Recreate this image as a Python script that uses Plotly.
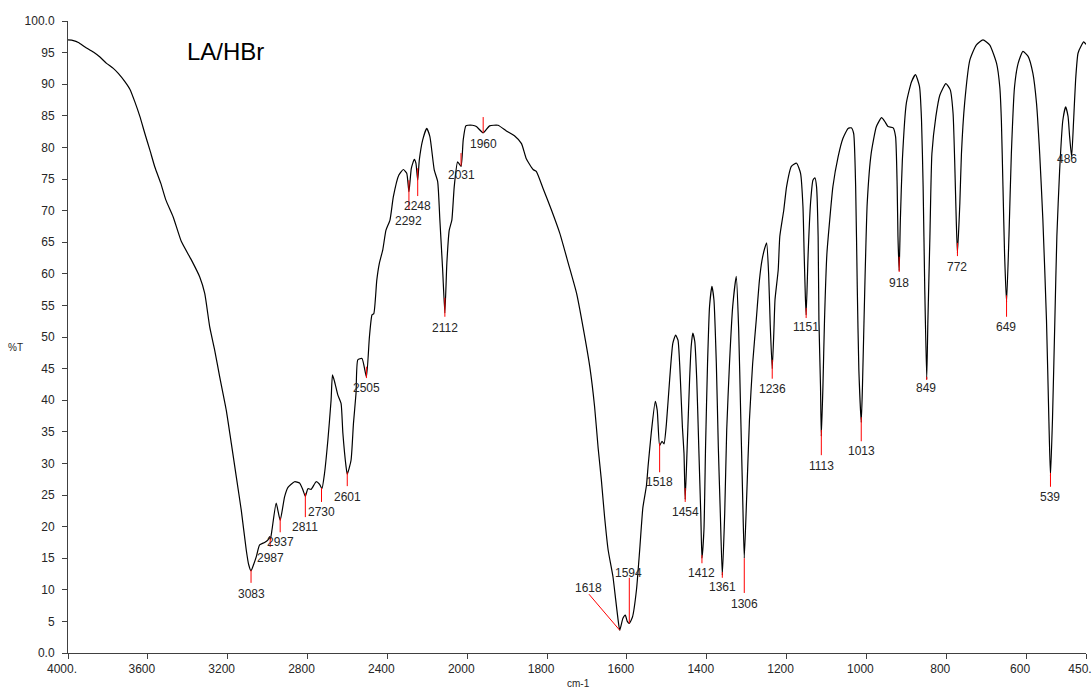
import plotly.graph_objects as go

# ---------------- data ----------------
wavenumber = [
    4000, 3973, 3948, 3915, 3873, 3840, 3807, 3773, 3748, 3715, 3690, 3665, 3640, 3615,
    3590, 3565, 3535, 3510, 3473, 3432, 3382, 3340, 3315, 3290, 3265, 3240, 3207, 3182,
    3157, 3132, 3107, 3095, 3083, 3070, 3057, 3040, 3015, 2998, 2990, 2986, 2978, 2957,
    2937, 2915, 2898, 2865, 2840, 2823, 2811, 2798, 2782, 2757, 2740, 2728, 2715, 2698,
    2682, 2675, 2665, 2648, 2632, 2623, 2607, 2601, 2582, 2570, 2557, 2548, 2527, 2505,
    2490, 2477, 2468, 2453, 2440, 2423, 2407, 2387, 2370, 2343, 2320, 2303, 2292, 2280,
    2265, 2257, 2248, 2240, 2223, 2203, 2187, 2165, 2148, 2137, 2123, 2112, 2102, 2090,
    2077, 2065, 2048, 2031, 2020, 2007, 1998, 1987, 1977, 1960, 1944, 1923, 1902, 1881,
    1864, 1852, 1835, 1827, 1810, 1789, 1768, 1747, 1726, 1710, 1693, 1681, 1672, 1664,
    1656, 1647, 1635, 1628, 1622, 1618, 1610, 1604, 1599, 1594, 1586, 1576, 1568, 1560,
    1551, 1547, 1539, 1529, 1524, 1518, 1512, 1507, 1501, 1493, 1485, 1478, 1472, 1466,
    1461, 1457, 1454, 1449, 1443, 1439, 1435, 1430, 1425, 1420, 1415, 1412, 1407, 1403,
    1398, 1393, 1387, 1382, 1376, 1371, 1366, 1361, 1355, 1350, 1343, 1335, 1326, 1320,
    1315, 1310, 1306, 1300, 1293, 1285, 1276, 1268, 1262, 1255, 1250, 1245, 1241, 1236,
    1232, 1229, 1221, 1217, 1207, 1200, 1188, 1175, 1165, 1159, 1156, 1153, 1151, 1146,
    1140, 1134, 1129, 1125, 1121, 1119, 1115, 1113, 1109, 1105, 1099, 1092, 1084, 1071,
    1059, 1046, 1038, 1032, 1027, 1023, 1019, 1013, 1010, 1004, 998, 988, 975, 962,
    954, 946, 933, 927, 923, 921, 918, 915, 910, 900, 887, 877, 867, 862,
    858, 854, 849, 846, 841, 836, 826, 816, 801, 790, 783, 779, 775, 772,
    766, 762, 754, 741, 725, 708, 691, 674, 666, 662, 658, 654, 649, 643,
    637, 629, 620, 608, 595, 583, 574, 566, 558, 549, 543, 539, 534, 528,
    523, 516, 508, 501, 495, 491, 486, 481, 476, 470, 461, 456, 451, 450,
]
transmittance = [
    97.0, 96.9, 96.6, 95.9, 95.1, 94.3, 93.3, 92.5, 91.7, 90.4, 89.2, 87.2, 84.9, 82.2,
    79.6, 76.9, 74.3, 71.7, 69.0, 65.1, 62.2, 59.5, 56.9, 51.6, 47.9, 43.7, 38.4, 33.2,
    27.9, 22.6, 16.3, 14.0, 13.0, 14.0, 15.2, 17.1, 17.5, 17.9, 18.4, 18.0, 19.5, 23.7,
    21.0, 24.7, 26.2, 27.1, 26.9, 25.8, 24.8, 26.0, 25.9, 27.1, 26.7, 26.0, 28.4, 33.7,
    40.0, 44.0, 43.0, 40.8, 39.5, 34.8, 29.5, 28.3, 30.5, 36.3, 41.1, 46.4, 46.6, 43.7,
    50.0, 53.5, 53.7, 59.0, 61.7, 63.8, 66.9, 68.5, 72.2, 75.6, 76.5, 75.9, 73.0, 76.7,
    78.1, 77.5, 74.8, 78.0, 81.2, 83.0, 81.7, 76.4, 74.6, 68.5, 60.6, 53.8, 61.7, 66.9,
    68.5, 73.8, 77.7, 77.0, 81.2, 83.4, 83.5, 83.5, 83.3, 82.3, 83.4, 83.5, 82.6, 81.8,
    80.6, 78.2, 76.5, 76.2, 73.5, 70.1, 66.4, 61.7, 56.9, 51.6, 45.3, 39.0, 32.4, 27.4,
    21.6, 16.3, 12.1, 8.4, 5.2, 3.6, 5.5, 6.0, 5.0, 4.7, 5.7, 10.0, 16.3, 23.0,
    26.5, 29.5, 34.8, 39.8, 38.4, 32.8, 33.5, 33.1, 36.3, 43.2, 49.0, 50.3, 49.5, 43.2,
    35.8, 31.6, 24.3, 32.6, 43.2, 48.5, 50.6, 49.3, 43.2, 32.6, 22.1, 15.0, 19.5, 32.6,
    45.8, 54.8, 58.0, 55.9, 45.8, 32.6, 22.1, 12.3, 22.1, 35.3, 45.8, 54.8, 59.6, 51.1,
    37.9, 24.7, 15.0, 24.7, 36.9, 45.8, 52.7, 59.0, 62.0, 64.0, 64.9, 60.0, 52.0, 45.0,
    50.6, 55.9, 60.6, 65.9, 70.1, 73.8, 77.0, 77.5, 75.9, 70.6, 63.2, 56.4, 53.5, 63.2,
    71.2, 74.8, 75.2, 73.8, 65.9, 52.7, 42.1, 34.3, 42.1, 52.7, 63.2, 68.5, 73.8, 78.5,
    81.4, 83.0, 83.1, 82.2, 73.8, 58.0, 44.8, 36.5, 42.1, 58.0, 71.2, 79.1, 83.3, 84.7,
    84.1, 83.3, 83.1, 81.7, 73.8, 65.9, 60.5, 68.5, 78.0, 87.0, 90.4, 91.5, 89.6, 84.3,
    73.8, 58.0, 43.3, 52.7, 65.9, 79.0, 84.9, 88.3, 90.1, 89.1, 85.4, 78.0, 68.5, 63.3,
    71.2, 79.0, 87.0, 93.8, 96.2, 97.0, 96.2, 93.3, 89.6, 84.3, 73.8, 63.2, 55.5, 65.9,
    79.0, 89.6, 93.3, 95.2, 94.4, 91.7, 87.0, 79.0, 68.5, 52.7, 36.9, 28.0, 36.9, 52.7,
    65.9, 76.4, 84.3, 86.4, 84.9, 81.7, 78.5, 84.3, 90.7, 94.9, 96.2, 96.7, 96.4, 96.3,
]

# peak picks: label, tick top/bottom (%T), label position
peak_wn = [3083, 2987, 2937, 2811, 2730, 2601, 2505, 2292, 2248, 2112, 2031, 1960,
           1618, 1594, 1518, 1454, 1412, 1361, 1306, 1236, 1151, 1113, 1013, 918,
           849, 772, 649, 539, 486]
tick_top = [13.1, 18.4, 21.4, 25.3, 26.1, 28.6, 45.3, 74.8, 76.7, 56.2, 79.1, 84.8,
            3.6, 11.9, 33.2, 26.1, 15.5, 12.8, 15.0, 46.4, 54.6, 35.3, 37.3, 62.7,
            43.7, 64.9, 56.6, 28.5, 78.5]
tick_bottom = [11.1, 16.8, 19.1, 21.5, 23.9, 26.4, 43.5, 70.1, 72.3, 53.2, 77.1, 82.3,
               3.6, 4.7, 28.6, 23.9, 14.2, 11.9, 9.5, 43.4, 53.0, 31.3, 33.5, 60.3,
               43.2, 62.8, 53.2, 26.3, 78.5]
label_wn = [3083, 2987, 2937, 2811, 2730, 2601, 2505, 2292, 2248, 2112, 2031, 1960,
            1696, 1595, 1518, 1454, 1412, 1361, 1306, 1236, 1152, 1113, 1013, 919,
            850, 772, 650, 540, 497]
label_t = [9.3, 15.0, 17.6, 19.9, 22.3, 24.7, 41.9, 68.4, 70.7, 51.4, 75.6, 80.5,
           10.3, 12.7, 27.1, 22.3, 12.7, 10.4, 7.8, 41.8, 51.6, 29.6, 32.0, 58.5,
           41.9, 61.1, 51.6, 24.7, 78.2]
# leader line of the 1618 pick (from label to the band)
leader_wn = [1695, 1618]
leader_t = [9.3, 3.6]

x_ticks = [4000, 3600, 3200, 2800, 2400, 2000, 1800, 1600, 1400, 1200, 1000, 800, 600, 450]
x_ticktext = ["4000.", "3600", "3200", "2800", "2400", "2000", "1800", "1600",
              "1400", "1200", "1000", "800", "600", "450."]
y_ticks = list(range(0, 101, 5))
y_ticktext = ["0.0"] + [str(v) for v in range(5, 100, 5)] + ["100.0"]


# ---------------- axis scale (x compressed 2:1 above 2000 cm-1) ----------------
def to_axis(wn):
    return 4000 - wn if wn >= 2000 else 2000 + 2 * (2000 - wn)


FONT = "Liberation Sans"
TXT = "#262626"

fig = go.Figure()

fig.add_trace(go.Scatter(
    x=[to_axis(w) for w in wavenumber], y=transmittance,
    mode="lines", line=dict(color="black", width=1.2, shape="spline", smoothing=0.5),
    hoverinfo="skip", showlegend=False,
))

rx, ry = [], []
for w, t0, t1 in zip(peak_wn, tick_top, tick_bottom):
    if w == 1618:
        continue
    rx += [to_axis(w), to_axis(w), None]
    ry += [t0, t1, None]
rx += [to_axis(leader_wn[0]), to_axis(leader_wn[1]), None]
ry += [leader_t[0], leader_t[1], None]
fig.add_trace(go.Scatter(x=rx, y=ry, mode="lines", line=dict(color="#ff0000", width=1),
                         hoverinfo="skip", showlegend=False))

for w, lx, lt in zip(peak_wn, label_wn, label_t):
    fig.add_annotation(x=to_axis(lx), y=lt, text=str(w), showarrow=False,
                       font=dict(family=FONT, size=12, color=TXT),
                       xanchor="center", yanchor="middle")

fig.add_annotation(x=to_axis(3210), y=95.1, text="LA/HBr", showarrow=False,
                   font=dict(family=FONT, size=24, color="black"),
                   xanchor="center", yanchor="middle")
fig.add_annotation(xref="paper", yref="paper", x=-0.052, y=0.484, text="%T",
                   showarrow=False, font=dict(family=FONT, size=10, color=TXT),
                   xanchor="center", yanchor="middle")
fig.add_annotation(xref="paper", yref="paper", x=0.501, y=-0.0475, text="cm-1",
                   showarrow=False, font=dict(family=FONT, size=10, color=TXT),
                   xanchor="center", yanchor="middle")

fig.update_xaxes(range=[0, to_axis(450)], tickvals=[to_axis(v) for v in x_ticks],
                 ticktext=x_ticktext, showgrid=False, zeroline=False,
                 showline=True, linecolor="#404040", linewidth=1,
                 ticks="outside", ticklen=5, tickcolor="#404040",
                 tickfont=dict(family=FONT, size=12, color=TXT),
                 ticklabelshift=-6, ticklabeloverflow="allow", automargin=False)
fig.update_yaxes(range=[0, 100], tickvals=y_ticks, ticktext=y_ticktext,
                 showgrid=False, zeroline=False,
                 showline=True, linecolor="#404040", linewidth=1,
                 ticks="outside", ticklen=5, tickcolor="#404040",
                 tickfont=dict(family=FONT, size=12, color=TXT),
                 ticklabelstandoff=5, ticklabeloverflow="allow", automargin=False)

fig.update_layout(width=1092, height=693, autosize=False,
                  margin=dict(l=68, r=6, t=21, b=40),
                  paper_bgcolor="white", plot_bgcolor="white")

fig.write_html("out.html", config={"displayModeBar": False},
               post_script="document.body.style.margin='0';document.body.style.overflow='hidden';")
